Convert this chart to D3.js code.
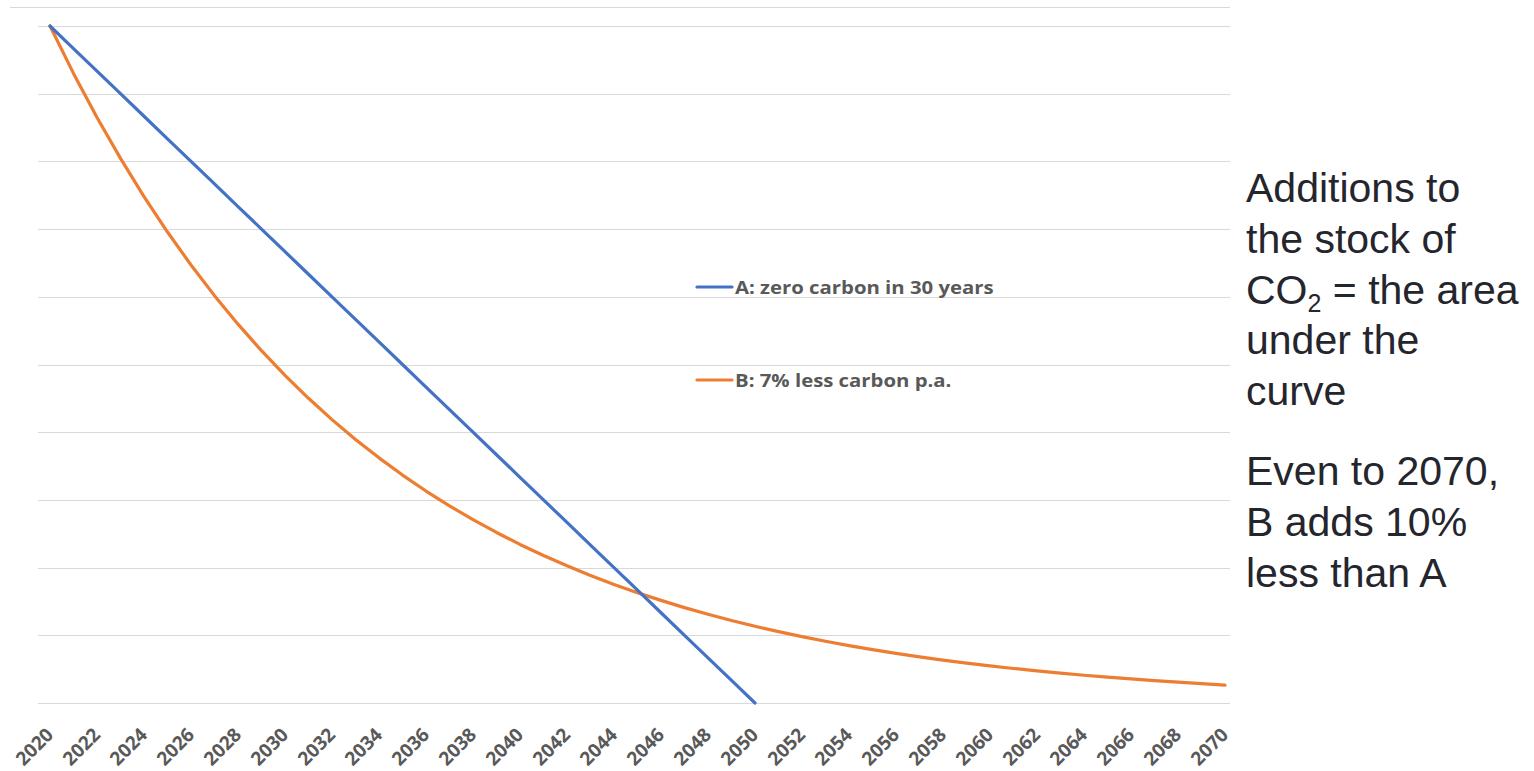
<!DOCTYPE html>
<html>
<head>
<meta charset="utf-8">
<script src="https://cdn.jsdelivr.net/npm/d3@7"></script>
<style>
  html, body { margin: 0; padding: 0; background: #ffffff; }
  svg { display: block; }
</style>
</head>
<body>
<svg id="chart" width="1534" height="771"></svg>
<script>
// Emission paths, indexed from 2020 (value 100 = 2020 emissions)
const years = d3.range(2020, 2071);
// A: straight-line cut to zero by 2050
const seriesA = [100, 96.67, 93.33, 90, 86.67, 83.33, 80, 76.67, 73.33, 70,
  66.67, 63.33, 60, 56.67, 53.33, 50, 46.67, 43.33, 40, 36.67,
  33.33, 30, 26.67, 23.33, 20, 16.67, 13.33, 10, 6.67, 3.33, 0];
// B: 7% less every year, 2020-2070
const seriesB = [100, 93, 86.49, 80.44, 74.81, 69.57, 64.7, 60.17, 55.96, 52.04,
  48.4, 45.01, 41.86, 38.93, 36.21, 33.67, 31.31, 29.12, 27.08, 25.19,
  23.42, 21.78, 20.26, 18.84, 17.52, 16.3, 15.16, 14.09, 13.11, 12.19,
  11.34, 10.54, 9.8, 9.12, 8.48, 7.89, 7.33, 6.82, 6.34, 5.9,
  5.49, 5.1, 4.74, 4.41, 4.1, 3.82, 3.55, 3.3, 3.07, 2.85, 2.65];
const seriesNames = ["A: zero carbon in 30 years", "B: 7% less carbon p.a."];
const seriesColors = ["#4472C4", "#ED7D31"];
const tickYears = d3.range(2020, 2071, 2);
const gridValues = d3.range(0, 101, 10);
const noteLines1 = ["Additions to", "the stock of", "CO|2| = the area", "under the", "curve"];
const noteLines2 = ["Even to 2070,", "B adds 10%", "less than A"];

const svg = d3.select("#chart");

const x = d3.scaleLinear().domain([2020, 2070]).range([50, 1225]);
const y = d3.scaleLinear().domain([0, 100]).range([703, 26]);

// outer frame top edge
svg.append("line")
  .attr("x1", 10).attr("x2", 1230).attr("y1", 7.5).attr("y2", 7.5)
  .attr("stroke", "#d9d9d9").attr("stroke-width", 1);

// horizontal gridlines
svg.append("g").selectAll("line")
  .data(gridValues)
  .join("line")
  .attr("x1", 38).attr("x2", 1230)
  .attr("y1", d => Math.round(y(d)) + 0.5)
  .attr("y2", d => Math.round(y(d)) + 0.5)
  .attr("stroke", "#d9d9d9")
  .attr("stroke-width", 1);

// x axis labels, rotated
const xAxis = d3.axisBottom(x)
  .tickValues(tickYears)
  .tickFormat(d3.format("d"))
  .tickSize(0);
const gx = svg.append("g").attr("transform", "translate(0,703)").call(xAxis);
gx.select(".domain").remove();
gx.attr("font-size", null).attr("font-family", null);
gx.selectAll(".tick text")
  .attr("fill", "#595959")
  .style("font-family", "'Open Sans', sans-serif")
  .style("font-weight", 700)
  .style("font-size", "19px")
  .attr("text-anchor", "end")
  .attr("dy", 0)
  .attr("y", 0)
  .attr("transform", "translate(4,33) rotate(-45)");

// series lines
const line = d3.line()
  .x(d => x(d[0]))
  .y(d => y(d[1]));

const dataA = seriesA.map((v, i) => [years[i], v]);
const dataB = seriesB.map((v, i) => [years[i], v]);

svg.append("path")
  .datum(dataB)
  .attr("d", line)
  .attr("fill", "none")
  .attr("stroke", seriesColors[1])
  .attr("stroke-width", 3.2)
  .attr("stroke-linecap", "round")
  .attr("stroke-linejoin", "round");

svg.append("path")
  .datum(dataA)
  .attr("d", line)
  .attr("fill", "none")
  .attr("stroke", seriesColors[0])
  .attr("stroke-width", 3.2)
  .attr("stroke-linecap", "round")
  .attr("stroke-linejoin", "round");

// legend
const legendY = [287, 380];
const legend = svg.append("g");
seriesNames.forEach((name, i) => {
  const g = legend.append("g").attr("transform", `translate(697,${legendY[i]})`);
  g.append("line")
    .attr("x1", 0).attr("x2", 35).attr("y1", 0).attr("y2", 0)
    .attr("stroke", seriesColors[i]).attr("stroke-width", 3.2)
    .attr("stroke-linecap", "round");
  g.append("text")
    .attr("transform", "translate(38,7) scale(1.13,1)")
    .attr("fill", "#595959")
    .attr("font-family", "'Open Sans', sans-serif")
    .attr("font-weight", 700)
    .attr("font-size", 18)
    .text(name);
});

// side note
function drawNote(lines, top) {
  const t = svg.append("text")
    .attr("x", 1246)
    .attr("y", top)
    .attr("fill", "#25252d")
    .attr("font-family", "'Liberation Sans', Arial, sans-serif")
    .attr("font-size", 41);
  lines.forEach((ln, i) => {
    const parts = ln.split("|");
    const baseY = top + i * 50.8;
    parts.forEach((p, j) => {
      const ts = t.append("tspan").text(p);
      if (j === 0) ts.attr("x", 1246).attr("y", baseY);
      if (j === 1) ts.attr("font-size", 25).attr("y", baseY + 8);
      if (j === 2) ts.attr("y", baseY);
    });
  });
}
drawNote(noteLines1, 202);
drawNote(noteLines2, 485);
</script>
</body>
</html>
